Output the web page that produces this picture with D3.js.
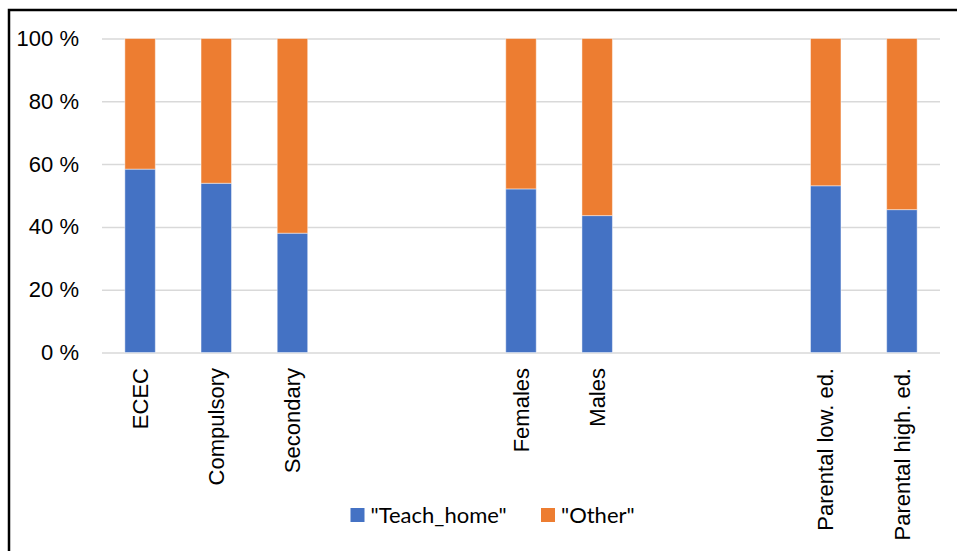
<!DOCTYPE html>
<html>
<head>
<meta charset="utf-8">
<script src="https://cdn.jsdelivr.net/npm/d3@7"></script>
<style>
  body { margin: 0; background: #fff; }
  svg { display: block; font-family: Lato, "Noto Sans", sans-serif; }
</style>
</head>
<body>
<div id="chart"></div>
<script>
// categories, with empty slots between the groups
var categories = ["ECEC", "Compulsory", "Secondary", "", "", "Females", "Males", "", "", "Parental low. ed.", "Parental high. ed."];
var teachHome = [58.4, 53.9, 38.0, null, null, 52.1, 43.6, null, null, 53.1, 45.5];
var other     = [41.6, 46.1, 62.0, null, null, 47.9, 56.4, null, null, 46.9, 54.5];
var seriesNames = ['"Teach_home"', '"Other"'];
var yTicks = [0, 20, 40, 60, 80, 100];

var colors = ["#4472C4", "#ED7D31"];

var W = 957, H = 551;
var margin = { top: 38.5, right: 17, bottom: 198.5, left: 102 };
var width = W - margin.left - margin.right;
var height = H - margin.top - margin.bottom;

var svg = d3.select("#chart").append("svg")
    .attr("width", W)
    .attr("height", H);

// outer frame
svg.append("rect")
    .attr("x", 9).attr("y", 10)
    .attr("width", 1000).attr("height", 1000)
    .attr("fill", "none")
    .attr("stroke", "#000")
    .attr("stroke-width", 2.5);

var g = svg.append("g")
    .attr("transform", "translate(" + margin.left + "," + margin.top + ")");

var x = d3.scaleBand().domain(d3.range(categories.length)).range([0, width]);
var y = d3.scaleLinear().domain([0, 100]).range([height, 0]);

// y axis + gridlines
var yAxis = g.append("g")
    .call(d3.axisLeft(y).tickValues(yTicks).tickFormat(function(d){ return d + " %"; })
        .tickSizeInner(-width).tickSizeOuter(0).tickPadding(23));
yAxis.select(".domain").remove();
yAxis.selectAll("line").attr("stroke", "#d9d9d9").attr("stroke-width", 1.5);
yAxis.selectAll("text").attr("font-size", 22).attr("fill", "#000");

// stacked bars
var rows = categories.map(function(c, i){
    return { i: i, th: teachHome[i] || 0, ot: other[i] || 0, has: teachHome[i] != null };
}).filter(function(d){ return d.has; });

var stack = d3.stack().keys(["th", "ot"]);
var layers = stack(rows);
var barW = x.bandwidth() * 0.4;

g.selectAll(".layer").data(layers).enter().append("g")
    .attr("fill", function(d, k){ return colors[k]; })
  .selectAll("rect").data(function(d){ return d; }).enter().append("rect")
    .attr("x", function(d){ return x(d.data.i) + (x.bandwidth() - barW) / 2; })
    .attr("y", function(d){ return y(d[1]); })
    .attr("width", barW)
    .attr("height", function(d){ return y(d[0]) - y(d[1]); })
    .attr("stroke", "#fff")
    .attr("stroke-opacity", 0.45)
    .attr("stroke-width", 1);

// x labels
var xAxis = g.append("g")
    .attr("transform", "translate(0," + height + ")")
    .call(d3.axisBottom(x).tickSize(0).tickFormat(function(i){ return categories[i]; }));
xAxis.select(".domain").remove();
xAxis.selectAll("text")
    .attr("font-size", 22)
    .attr("fill", "#000")
    .attr("text-anchor", "end")
    .attr("transform", "rotate(-90)")
    .attr("x", -15.5)
    .attr("y", 0)
    .attr("dy", "0.35em");

// legend
var legendX = [350.5, 541];
var legend = svg.append("g").selectAll("g").data(seriesNames).enter().append("g")
    .attr("transform", function(d, k){ return "translate(" + legendX[k] + ",508)"; });
legend.append("rect")
    .attr("width", 14).attr("height", 14)
    .attr("fill", function(d, k){ return colors[k]; });
legend.append("text")
    .attr("x", 20).attr("y", 7)
    .attr("dy", "0.35em")
    .attr("font-size", 22)
    .text(function(d){ return d; });
</script>
</body>
</html>
